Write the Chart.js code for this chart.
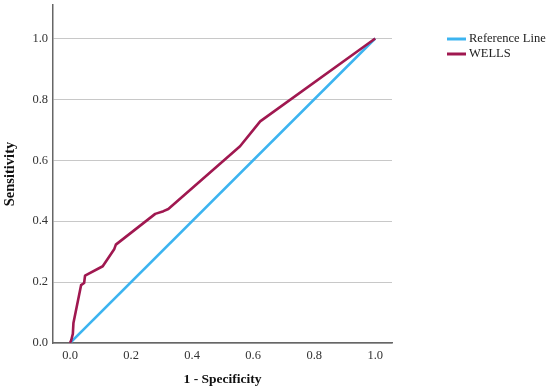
<!DOCTYPE html>
<html>
<head>
<meta charset="utf-8">
<script src="https://cdn.jsdelivr.net/npm/chart.js@4/dist/chart.umd.min.js"></script>
<style>
  html, body { margin: 0; padding: 0; background: #ffffff; }
  #wrap { width: 550px; height: 392px; position: relative; }
</style>
</head>
<body>
<div id="wrap"><canvas id="c" width="550" height="392"></canvas></div>
<script>
// ---- data ----
const seriesNames = ["Reference Line", "WELLS"];
const refX = [0, 1];
const refY = [0, 1];
const wellsX = [0, 0.004, 0.009, 0.011, 0.036, 0.046, 0.049, 0.107, 0.145, 0.150, 0.279, 0.306, 0.322, 0.557, 0.623, 1.0];
const wellsY = [0, 0.010, 0.030, 0.066, 0.190, 0.197, 0.221, 0.252, 0.309, 0.323, 0.424, 0.433, 0.440, 0.646, 0.728, 1.0];
const xTicks = [0, 0.2, 0.4, 0.6, 0.8, 1.0];
const yTicks = [0, 0.2, 0.4, 0.6, 0.8, 1.0];
const xTitle = "1 - Specificity";
const yTitle = "Sensitivity";

const toPts = (xs, ys) => xs.map((x, i) => ({ x: x, y: ys[i] }));

const sideLegend = {
  id: 'sideLegend',
  afterDraw(chart) {
    const ctx = chart.ctx;
    ctx.save();
    ctx.font = '12.5px "Liberation Serif", serif';
    ctx.textBaseline = 'middle';
    ctx.textAlign = 'left';
    chart.data.datasets.forEach((ds, i) => {
      const y = 39 + i * 15;
      ctx.strokeStyle = ds.borderColor;
      ctx.lineWidth = 3;
      ctx.beginPath();
      ctx.moveTo(447, y);
      ctx.lineTo(466, y);
      ctx.stroke();
      ctx.fillStyle = '#222222';
      ctx.fillText(ds.label, 469, y);
    });
    ctx.restore();
  }
};

new Chart(document.getElementById('c'), {
  type: 'line',
  data: {
    datasets: [
      {
        label: seriesNames[0],
        data: toPts(refX, refY),
        borderColor: '#3cb4f0',
        borderWidth: 2.5,
        pointRadius: 0,
        fill: false,
        tension: 0,
        order: 2
      },
      {
        label: seriesNames[1],
        data: toPts(wellsX, wellsY),
        borderColor: '#a01850',
        borderWidth: 2.6,
        pointRadius: 0,
        fill: false,
        tension: 0,
        borderJoinStyle: 'round',
        order: 1
      }
    ]
  },
  options: {
    responsive: false,
    animation: false,
    events: [],
    layout: { padding: { top: 5, right: 158, bottom: 0, left: 0 } },
    plugins: {
      legend: { display: false },
      tooltip: { enabled: false }
    },
    scales: {
      x: {
        type: 'linear',
        min: -0.056,
        max: 1.055,
        afterBuildTicks: s => { s.ticks = xTicks.map(v => ({ value: v })); },
        afterFit: s => { s.height = 49; s.paddingLeft = 0; s.paddingRight = 0; },
        grid: { display: false, drawTicks: false },
        border: { display: true, color: '#666666', width: 1.5 },
        ticks: {
          padding: 5,
          color: '#333333',
          font: { family: '"Liberation Serif", serif', size: 12.5 },
          callback: v => v.toFixed(1),
          maxRotation: 0
        },
        title: {
          display: true,
          text: xTitle,
          color: '#111111',
          font: { family: '"Liberation Serif", serif', size: 13.5, weight: 'bold' },
          padding: { top: 4, bottom: 4 }
        }
      },
      y: {
        type: 'linear',
        min: 0,
        max: 1.11,
        afterBuildTicks: s => { s.ticks = yTicks.map(v => ({ value: v })); },
        afterFit: s => { s.width = 53; s.paddingTop = 0; s.paddingBottom = 0; },
        grid: { display: true, drawTicks: false, color: '#c8c8c8', lineWidth: 1 },
        border: { display: true, color: '#666666', width: 1.5 },
        ticks: {
          padding: 5,
          color: '#333333',
          font: { family: '"Liberation Serif", serif', size: 12.5 },
          callback: v => v.toFixed(1)
        },
        title: {
          display: true,
          text: yTitle,
          color: '#111111',
          font: { family: '"Liberation Serif", serif', size: 14.5, weight: 'bold' },
          padding: { top: 1.5, bottom: 4 }
        }
      }
    }
  },
  plugins: [sideLegend]
});
</script>
</body>
</html>
